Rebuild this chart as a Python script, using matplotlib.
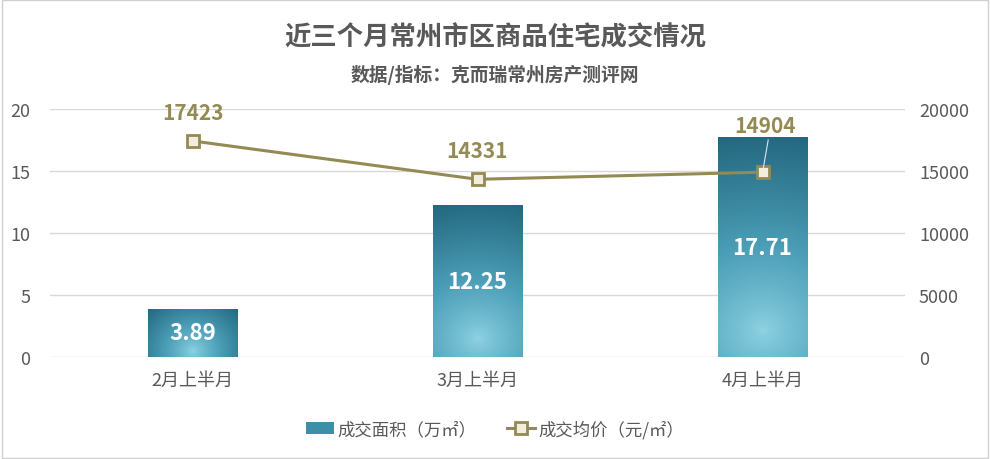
import matplotlib
matplotlib.use("Agg")
import matplotlib.pyplot as plt
import numpy as np
from matplotlib.colors import LinearSegmentedColormap
from matplotlib.patches import Rectangle, Patch
from matplotlib.lines import Line2D

plt.rcParams["font.family"] = ["Noto Sans CJK SC", "DejaVu Sans"]

categories = ["2月上半月", "3月上半月", "4月上半月"]
area = [3.89, 12.25, 17.71]          # 成交面积（万㎡）
price = [17423, 14331, 14904]        # 成交均价（元/㎡）

TXT = "#595959"
C_LINE = "#948a54"
C_GRID = "#d9d9d9"
cmap = LinearSegmentedColormap.from_list("bar", ["#8fd3e3", "#4c9fb8", "#23687f"])

fig = plt.figure(figsize=(9.9, 4.6), dpi=100)
ax1 = fig.add_axes([50 / 990, (460 - 358) / 460, 855 / 990, 248 / 460])
ax2 = ax1.twinx()

x = np.arange(len(categories))
width = 90 / 285
bars = ax1.bar(x, area, width=width, color="none", edgecolor="none", zorder=2)

# radial gradient fill for each bar
gy, gx = np.mgrid[0:1:200j, 0:1:100j]
for b in bars:
    h = b.get_height()
    w = b.get_width()
    dx = (gx - 0.5) * 1.0
    dy = (gy - 0.12) * (h / 6.0) * 0.9
    d = np.sqrt(dx ** 2 + dy ** 2)
    d = np.clip(d / max(d.max(), 1e-6), 0, 1) ** 0.8
    im = ax1.imshow(d, cmap=cmap, vmin=0, vmax=1, origin="lower", aspect="auto",
                    extent=[b.get_x(), b.get_x() + w, 0, h], zorder=2)
    im.set_clip_path(b)

for xi, v in zip(x, area):
    ax1.text(xi, v / 2, f"{v:.2f}", ha="center", va="center", color="white",
             fontsize=16, fontweight="bold", zorder=5)

ax1.set_xlim(-0.5, len(categories) - 0.5)
ax1.set_ylim(0, 20)
ax1.set_yticks([0, 5, 10, 15, 20])
ax2.set_ylim(0, 20000)
ax2.set_yticks([0, 5000, 10000, 15000, 20000])

ax1.yaxis.grid(True, color=C_GRID, linewidth=1)
ax1.set_axisbelow(True)
for ax in (ax1, ax2):
    for s in ax.spines.values():
        s.set_visible(False)
    ax.tick_params(length=0, labelsize=13, colors=TXT)
ax1.tick_params(axis="y", pad=14)
ax2.tick_params(axis="y", pad=10)
ax1.set_xticks(x)
ax1.set_xticklabels(categories, fontsize=13, color=TXT)
ax1.tick_params(axis="x", pad=10)

ax2.plot(x, price, color=C_LINE, linewidth=2.2, marker="s", markersize=8,
         markerfacecolor="#f3ede0", markeredgecolor=C_LINE, markeredgewidth=2, zorder=4)
offs = [2300, 2350, 3750]
for xi, v, oy in zip(x, price, offs):
    ax2.text(xi + (0.01 if xi == 2 else 0), v + oy, f"{v}", ha="center", va="center",
             color=C_LINE, fontsize=15, fontweight="bold", zorder=5)
# leader line for the last label
ax2.plot([x[2] + 0.02, x[2] + 0.003], [price[2] + 2600, price[2] + 350], color="#d8e6ea",
         linewidth=0.8, zorder=4)

fig.text(0.5, 1 - 38 / 460, "近三个月常州市区商品住宅成交情况", ha="center", va="center",
         fontsize=19, fontweight="bold", color=TXT)
fig.text(0.5, 1 - 75 / 460, "数据/指标：克而瑞常州房产测评网", ha="center", va="center",
         fontsize=13.5, fontweight="bold", color=TXT)

handles = [Patch(facecolor="#3d8ea8", edgecolor="none"),
           Line2D([0], [0], color=C_LINE, linewidth=2.2, marker="s", markersize=8,
                  markerfacecolor="#f3ede0", markeredgecolor=C_LINE, markeredgewidth=2)]
fig.legend(handles, ["成交面积（万㎡）", "成交均价（元/㎡）"], loc="center",
           bbox_to_anchor=(0.5, 1 - 430 / 460), ncol=2, frameon=False, fontsize=12.5,
           labelcolor=TXT, handlelength=1.6, handletextpad=0.2, columnspacing=1.8)

fig.patches.append(Rectangle((0.002, 0.003), 0.996, 0.994, transform=fig.transFigure,
                             fill=False, edgecolor="#d0d0d0", linewidth=1))

fig.savefig("out.png", dpi=100)
